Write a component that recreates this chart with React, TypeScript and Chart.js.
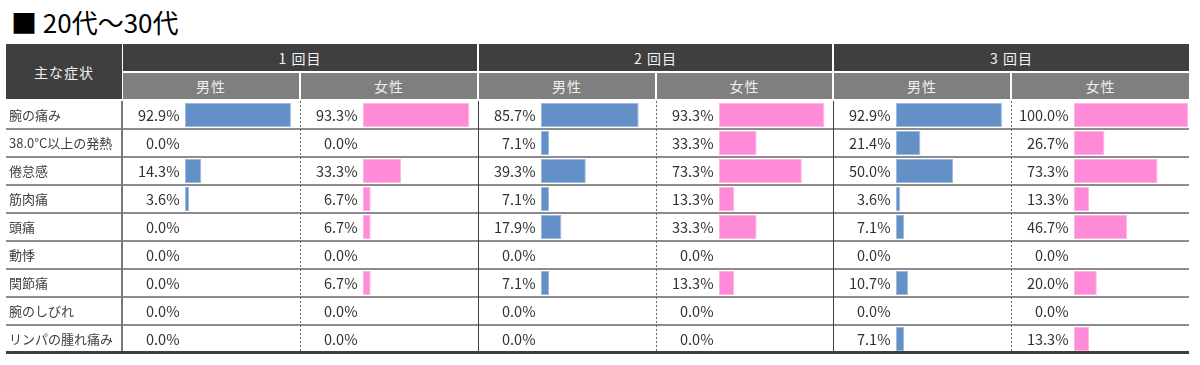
import React, { useEffect, useRef } from "react";
import { Chart, registerables } from "chart.js";

Chart.register(...registerables);

const title = "■ 20代～30代";
const cornerLabel = "主な症状";
const symptoms = [
  "腕の痛み",
  "38.0°C以上の発熱",
  "倦怠感",
  "筋肉痛",
  "頭痛",
  "動悸",
  "関節痛",
  "腕のしびれ",
  "リンパの腫れ痛み",
];
const rounds = ["1 回目", "2 回目", "3 回目"];
const sexes = ["男性", "女性"];

const male1 = [92.9, 0.0, 14.3, 3.6, 0.0, 0.0, 0.0, 0.0, 0.0];
const female1 = [93.3, 0.0, 33.3, 6.7, 6.7, 0.0, 6.7, 0.0, 0.0];
const male2 = [85.7, 7.1, 39.3, 7.1, 17.9, 0.0, 7.1, 0.0, 0.0];
const female2 = [93.3, 33.3, 73.3, 13.3, 33.3, 0.0, 13.3, 0.0, 0.0];
const male3 = [92.9, 21.4, 50.0, 3.6, 7.1, 0.0, 10.7, 0.0, 7.1];
const female3 = [100.0, 26.7, 73.3, 13.3, 46.7, 0.0, 20.0, 0.0, 13.3];

const columns = [male1, female1, male2, female2, male3, female3];

const FONT = "'Noto Sans CJK JP', 'Noto Sans', sans-serif";
const colEdges = [122, 300, 478, 656, 833, 1011, 1189];
const TABLE_LEFT = 6;
const ROWS_TOP = 101;
const ROWS_H = 252;
const BAR_OFFSET = 63;

const BLUE = "#6490c8";
const BLUE_BORDER = "#9dbbe0";
const PINK = "#ff8ad8";
const PINK_BORDER = "#ffb4e6";

type ColProps = {
  values: number[];
  index: number;
};

const tablePlugin = {
  id: "tableDeco",
  afterDatasetsDraw(chart: any, _args: any, opts: any) {
    const ctx = chart.ctx as CanvasRenderingContext2D;
    const y = chart.scales.y;
    const area = chart.chartArea;
    const w = chart.width;
    ctx.save();
    // row separators
    ctx.strokeStyle = "#8c8c8c";
    ctx.lineWidth = 2;
    for (let k = 0; k < symptoms.length - 1; k++) {
      const yy = (y.getPixelForTick(k) + y.getPixelForTick(k + 1)) / 2;
      ctx.beginPath();
      ctx.moveTo(0, yy);
      ctx.lineTo(w, yy);
      ctx.stroke();
    }
    // vertical separator
    const sx = opts.sepX;
    ctx.beginPath();
    if (opts.sepStyle === "dotted") {
      ctx.strokeStyle = "#6a6a6a";
      ctx.lineWidth = 1;
      ctx.setLineDash([2, 2]);
    } else if (opts.sepStyle === "label") {
      ctx.strokeStyle = "#7a7a7a";
      ctx.lineWidth = 2;
    } else {
      ctx.strokeStyle = "#404040";
      ctx.lineWidth = 1;
    }
    ctx.moveTo(sx, 0);
    ctx.lineTo(sx, area.bottom);
    ctx.stroke();
    ctx.setLineDash([]);
    // bottom line
    ctx.strokeStyle = "#404040";
    ctx.lineWidth = 3;
    ctx.beginPath();
    ctx.moveTo(0, area.bottom - 0.5);
    ctx.lineTo(w, area.bottom - 0.5);
    ctx.stroke();
    // category labels (first column only)
    if (opts.showLabels) {
      ctx.fillStyle = "#404040";
      ctx.font = `13px ${FONT}`;
      ctx.textAlign = "left";
      ctx.textBaseline = "middle";
      symptoms.forEach((s, i) => {
        ctx.fillText(s, 3, y.getPixelForTick(i) + 0.5);
      });
    }
    // value labels
    const meta = chart.getDatasetMeta(0);
    const data = chart.data.datasets[0].data as number[];
    ctx.fillStyle = "#303030";
    ctx.font = `14.5px ${FONT}`;
    ctx.textAlign = "right";
    ctx.textBaseline = "middle";
    meta.data.forEach((el: any, i: number) => {
      ctx.fillText(`${data[i].toFixed(1)}%`, area.left - 5.5, el.y + 0.5);
    });
    ctx.restore();
  },
};

function BarColumn({ values, index }: ColProps) {
  const ref = useRef<HTMLCanvasElement>(null);
  const withLabels = index === 0;
  const left = withLabels ? TABLE_LEFT : colEdges[index];
  const width = colEdges[index + 1] - left;
  const isMale = index % 2 === 0;

  useEffect(() => {
    const canvas = ref.current!;
    const chart = new Chart(canvas, {
      type: "bar",
      data: {
        labels: symptoms,
        datasets: [
          {
            data: values,
            backgroundColor: isMale ? BLUE : PINK,
            borderColor: isMale ? BLUE_BORDER : PINK_BORDER,
            borderWidth: 1,
            borderSkipped: false,
            barPercentage: 0.86,
            categoryPercentage: 1,
          },
        ],
      },
      options: {
        indexAxis: "y",
        animation: false,
        responsive: false,
        maintainAspectRatio: false,
        layout: {
          padding: {
            left: withLabels ? colEdges[0] + BAR_OFFSET - TABLE_LEFT : BAR_OFFSET,
            right: 1,
            top: 0,
            bottom: 2,
          },
        },
        plugins: {
          legend: { display: false },
          tooltip: { enabled: false },
          title: { display: false },
          tableDeco: {
            sepX: withLabels ? colEdges[0] - TABLE_LEFT : 0.5,
            sepStyle: withLabels ? "label" : index % 2 === 1 ? "dotted" : "solid",
            showLabels: withLabels,
          },
        } as any,
        scales: {
          x: { min: 0, max: 100, display: false },
          y: { display: false, offset: true },
        },
      },
      plugins: [tablePlugin],
    });
    return () => chart.destroy();
  }, []);

  return (
    <canvas
      ref={ref}
      width={width}
      height={ROWS_H + 2}
      style={{
        position: "absolute",
        left,
        top: ROWS_TOP,
        width,
        height: ROWS_H + 2,
      }}
    />
  );
}

export default function App() {
  const headerText: React.CSSProperties = {
    position: "absolute",
    display: "flex",
    alignItems: "center",
    justifyContent: "center",
    fontFamily: FONT,
    fontSize: 14,
    letterSpacing: 1,
  };
  return (
    <div
      style={{
        position: "absolute",
        left: 0,
        top: 0,
        width: 1200,
        height: 365,
        background: "#ffffff",
        overflow: "hidden",
      }}
    >
      <div
        style={{
          position: "absolute",
          left: 11,
          top: 5,
          fontFamily: FONT,
          fontSize: 26,
          lineHeight: "34px",
          color: "#000",
          whiteSpace: "nowrap",
        }}
      >
        {title}
      </div>
      <div
        style={{
          ...headerText,
          left: TABLE_LEFT,
          top: 44,
          width: colEdges[0] - TABLE_LEFT,
          height: 55,
          background: "#3f3f3f",
          color: "#f2f2f2",
        }}
      >
        {cornerLabel}
      </div>
      {rounds.map((r, g) => {
        const l = colEdges[g * 2] + 1;
        const rgt = colEdges[g * 2 + 2] - (g < 2 ? 1 : 0);
        return (
          <div
            key={r}
            style={{
              ...headerText,
              left: l,
              top: 44,
              width: rgt - l,
              height: 27,
              background: "#3f3f3f",
              color: "#f2f2f2",
            }}
          >
            {r}
          </div>
        );
      })}
      {columns.map((_, j) => {
        const l = colEdges[j] + 1;
        const rgt = colEdges[j + 1] - (j < 5 ? 1 : 0);
        return (
          <div
            key={"s" + j}
            style={{
              ...headerText,
              left: l,
              top: 73,
              width: rgt - l,
              height: 26,
              background: "#7f7f7f",
              color: "#f0f0f0",
            }}
          >
            {sexes[j % 2]}
          </div>
        );
      })}
      {columns.map((vals, i) => (
        <BarColumn key={i} values={vals} index={i} />
      ))}
    </div>
  );
}
